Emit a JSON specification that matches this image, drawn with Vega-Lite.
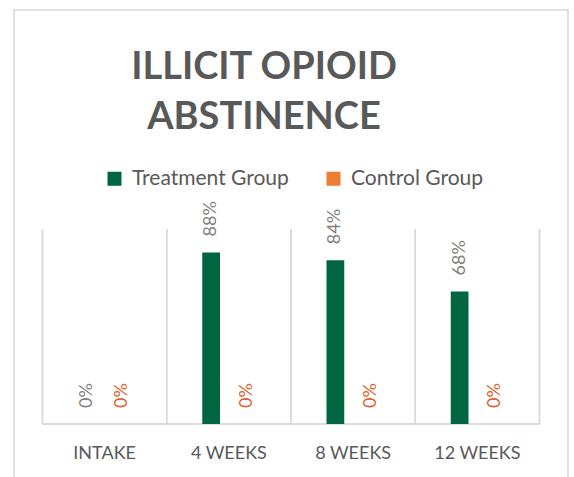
{
  "$schema": "https://vega.github.io/schema/vega-lite/v6.json",
  "width": 554,
  "height": 470,
  "autosize": {"type": "none"},
  "padding": {"left": 14, "top": 10, "right": 6, "bottom": 0},
  "background": "white",
  "config": {
    "view": {"stroke": "#D9D9D9", "strokeWidth": 1.5, "fill": "white"},
    "font": "Lato"
  },
  "title": {
    "text": ["ILLICIT OPIOID", "ABSTINENCE"],
    "font": "Lato",
    "fontSize": 38,
    "fontWeight": "bold",
    "color": "#595959",
    "anchor": "middle",
    "lineHeight": 50,
    "offset": -127,
    "dx": -27
  },
  "data": {
    "values": [
      {"cat": "INTAKE", "group": "Treatment Group", "value": 0},
      {"cat": "INTAKE", "group": "Control Group", "value": 0},
      {"cat": "4 WEEKS", "group": "Treatment Group", "value": 0.88},
      {"cat": "4 WEEKS", "group": "Control Group", "value": 0},
      {"cat": "8 WEEKS", "group": "Treatment Group", "value": 0.84},
      {"cat": "8 WEEKS", "group": "Control Group", "value": 0},
      {"cat": "12 WEEKS", "group": "Treatment Group", "value": 0.68},
      {"cat": "12 WEEKS", "group": "Control Group", "value": 0}
    ]
  },
  "encoding": {
    "x": {
      "field": "cat",
      "type": "nominal",
      "sort": ["INTAKE", "4 WEEKS", "8 WEEKS", "12 WEEKS"],
      "scale": {"paddingInner": 0, "paddingOuter": 0.2294},
      "axis": {
        "orient": "bottom",
        "offset": -56,
        "title": null,
        "domain": false,
        "ticks": false,
        "grid": false,
        "labelAngle": 0,
        "labelPadding": 20,
        "labelFont": "Lato",
        "labelFontSize": 18,
        "labelColor": "#595959"
      }
    }
  },
  "layer": [
    {
      "mark": {"type": "rule", "color": "#D9D9D9", "strokeWidth": 1.5},
      "encoding": {
        "x": {"field": "cat", "type": "nominal", "sort": ["INTAKE", "4 WEEKS", "8 WEEKS", "12 WEEKS"], "bandPosition": 0},
        "y": {"datum": 0, "type": "quantitative", "scale": {"domain": [-0.2872, 2.123], "nice": false, "zero": false}, "axis": null},
        "y2": {"datum": 1}
      }
    },
    {
      "transform": [{"filter": "datum.cat == '12 WEEKS'"}],
      "mark": {"type": "rule", "color": "#D9D9D9", "strokeWidth": 1.5},
      "encoding": {
        "x": {"field": "cat", "type": "nominal", "sort": ["INTAKE", "4 WEEKS", "8 WEEKS", "12 WEEKS"], "bandPosition": 1},
        "y": {"datum": 0, "type": "quantitative"},
        "y2": {"datum": 1}
      }
    },
    {
      "mark": {"type": "bar", "fillOpacity": 0, "stroke": "#D9D9D9", "strokeWidth": 1.5},
      "encoding": {
        "y": {"datum": 0, "type": "quantitative"},
        "y2": {"datum": 0}
      }
    },
    {
      "mark": {"type": "bar"},
      "encoding": {
        "xOffset": {
          "field": "group",
          "type": "nominal",
          "sort": ["Treatment Group", "Control Group"],
          "scale": {"paddingInner": 0.5, "paddingOuter": 1.19}
        },
        "y": {"field": "value", "type": "quantitative"},
        "y2": {"datum": 0},
        "color": {
          "field": "group",
          "type": "nominal",
          "sort": ["Treatment Group", "Control Group"],
          "scale": {"domain": ["Treatment Group", "Control Group"], "range": ["#006642", "#ED7D31"]},
          "legend": {
            "title": null,
            "orient": "none",
            "legendX": 90,
            "legendY": 158,
            "direction": "horizontal",
            "symbolType": "square",
            "symbolSize": 196,
            "symbolStrokeWidth": 0,
            "labelFont": "Lato",
            "labelFontSize": 21,
            "labelColor": "#595959",
            "labelOffset": 7,
            "columnPadding": 34
          }
        }
      }
    },
    {
      "transform": [{"filter": "datum.group == 'Treatment Group'"}],
      "mark": {"type": "text", "angle": 270, "align": "left", "baseline": "middle", "dx": 16, "fontSize": 18, "font": "Lato", "color": "#7F7F7F"},
      "encoding": {
        "xOffset": {"field": "group", "type": "nominal", "sort": ["Treatment Group", "Control Group"]},
        "y": {"field": "value", "type": "quantitative"},
        "text": {"field": "value", "type": "quantitative", "format": ".0%"}
      }
    },
    {
      "transform": [{"filter": "datum.group == 'Control Group'"}],
      "mark": {"type": "text", "angle": 270, "align": "left", "baseline": "middle", "dx": 16, "fontSize": 18, "font": "Lato", "color": "#E0602A"},
      "encoding": {
        "xOffset": {"field": "group", "type": "nominal", "sort": ["Treatment Group", "Control Group"]},
        "y": {"field": "value", "type": "quantitative"},
        "text": {"field": "value", "type": "quantitative", "format": ".0%"}
      }
    }
  ]
}
